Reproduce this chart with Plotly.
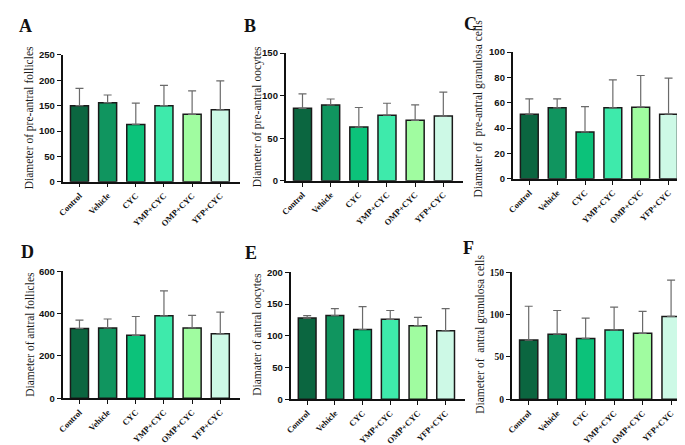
import plotly.graph_objects as go

groups = ["Control", "Vehicle", "CYC", "YMP+CYC", "OMP+CYC", "YFP+CYC"]
colors = ["#0b6640", "#10955f", "#0cc27a", "#3eeaab", "#a0fca0", "#cdf9e6"]

# A: pre-antral follicles
a_mean = [150, 156, 113, 150, 133, 142]
a_sd = [34, 15, 42, 40, 46, 57]
# B: pre-antral oocytes
b_mean = [85, 89, 63, 77, 71, 76]
b_sd = [17, 7, 23, 14, 18, 28]
# C: pre-antral granulosa cells
c_mean = [51, 56, 37, 56, 56.5, 51]
c_sd = [12, 7, 20, 22, 25, 28.5]
# D: antral follicles
d_mean = [330, 333, 298, 390, 333, 305]
d_sd = [40, 42, 89, 118, 59, 103]
# E: antral oocytes
e_mean = [128, 132, 110, 126, 116, 108]
e_sd = [4, 11, 36, 14, 13, 35]
# F: antral granulosa cells
f_mean = [70, 77, 72, 82, 78, 98]
f_sd = [40, 28, 24, 27, 26, 43]

panels = [
    dict(mean=a_mean, sd=a_sd, ymax=250, dtick=50, letter="A",
         title="Diameter of pre-antral follicles",
         xpx=(49, 228), ypx=(42, 172), tx=16, ty=106, lx=12, ly=12, tickserif=False),
    dict(mean=b_mean, sd=b_sd, ymax=150, dtick=50, letter="B",
         title="Diameter of pre-antral oocytes",
         xpx=(274, 453), ypx=(40, 171), tx=246, ty=105, lx=238, ly=12, tickserif=False),
    dict(mean=c_mean, sd=c_sd, ymax=100, dtick=20, letter="C",
         title="Diamater of  pre-antral granulosa cells",
         xpx=(503, 680), ypx=(39, 169), tx=469, ty=97, lx=461, ly=10, tickserif=False),
    dict(mean=d_mean, sd=d_sd, ymax=600, dtick=200, letter="D",
         title="Diameter of antral follicles",
         xpx=(49, 228), ypx=(264, 394), tx=16, ty=328, lx=14, ly=244, tickserif=False),
    dict(mean=e_mean, sd=e_sd, ymax=200, dtick=50, letter="E",
         title="Diamater of antral oocytes",
         xpx=(279, 455), ypx=(265, 395), tx=246, ty=328, lx=239, ly=245, tickserif=False),
    dict(mean=f_mean, sd=f_sd, ymax=150, dtick=50, letter="F",
         title="Diameter of  antral granulosa cells",
         xpx=(502, 683), ypx=(265, 395), tx=471, ty=328, lx=459, ly=240, tickserif=True),
]

W, H = 685, 445
fig = go.Figure()
annotations = []
layout = {}
for i, p in enumerate(panels):
    n = "" if i == 0 else str(i + 1)
    fig.add_trace(go.Bar(
        x=groups, y=p["mean"], xaxis="x" + n, yaxis="y" + n,
        marker=dict(color=colors, line=dict(color="#1a1a1a", width=1.5)),
        width=0.64,
        error_y=dict(type="data", symmetric=False, array=p["sd"],
                     arrayminus=[0] * len(groups), color="#6a6a6a",
                     thickness=1.2, width=4),
        showlegend=False,
    ))
    layout["xaxis" + n] = dict(
        domain=[p["xpx"][0] / W, p["xpx"][1] / W], anchor="y" + n,
        showline=True, linecolor="#111", linewidth=1.5,
        ticks="outside", ticklen=4, tickcolor="#111", tickwidth=1.2,
        tickangle=-45, range=[-0.6, 5.7],
        tickfont=dict(family="Liberation Serif", size=8.5, color="#111", weight="bold"),
        showgrid=False, zeroline=False,
    )
    layout["yaxis" + n] = dict(
        domain=[1 - p["ypx"][1] / H, 1 - p["ypx"][0] / H], anchor="x" + n,
        range=[0, p["ymax"]], dtick=p["dtick"],
        showline=True, linecolor="#111", linewidth=1.5,
        ticks="outside", ticklen=4, tickcolor="#111", tickwidth=1.2,
        tickfont=dict(family="Liberation Serif" if p["tickserif"] else "Liberation Sans",
                      size=9.5, color="#111", weight="bold"),
        showgrid=False, zeroline=False,
    )
    annotations.append(dict(
        text=p["title"], xref="paper", yref="paper",
        x=p["tx"] / W, y=1 - p["ty"] / H, textangle=-90, showarrow=False,
        xanchor="center", yanchor="middle",
        font=dict(family="Liberation Serif", size=11.5, color="#1a1a1a"),
    ))
    annotations.append(dict(
        text="<b>" + p["letter"] + "</b>", xref="paper", yref="paper",
        x=p["lx"] / W, y=1 - p["ly"] / H, showarrow=False,
        xanchor="center", yanchor="middle",
        font=dict(family="Liberation Serif", size=18, color="#111"),
    ))

fig.update_layout(
    width=W, height=H, margin=dict(l=0, r=0, t=0, b=0),
    paper_bgcolor="white", plot_bgcolor="white",
    annotations=annotations, **layout,
)
fig.write_html("out.html")
